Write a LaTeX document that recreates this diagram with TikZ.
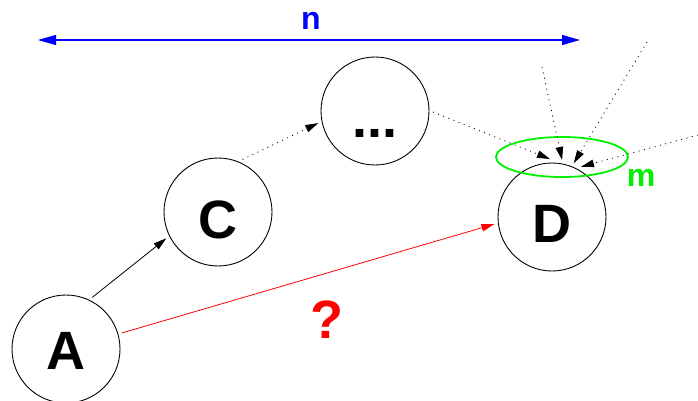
\documentclass[tikz,border=0pt]{standalone}
\usepackage{fontspec}
\setmainfont{Liberation Sans}
\usetikzlibrary{arrows.meta,calc,shapes.geometric}
\definecolor{fgreen}{RGB}{0,240,0}
\definecolor{fblue}{RGB}{0,0,255}
\definecolor{fred}{RGB}{255,0,0}
\tikzset{
  st/.style={circle,draw=black,line width=0.9pt,minimum size=108pt,inner sep=0pt,outer sep=4pt,
    font=\fontsize{54}{54}\selectfont\bfseries,text depth=0pt},
  blk/.style={-{Triangle[length=13pt,width=7.5pt]},line width=0.8pt,black},
  dots/.style={blk,dash pattern=on 1pt off 4.5pt},
  lbl/.style={font=\fontsize{32}{32}\selectfont\bfseries,inner sep=0pt}
}
\begin{document}
\begin{tikzpicture}[x=1pt,y=-1pt]
\useasboundingbox (0,0) rectangle (698,401);
\node[st,text height=40pt] (A) at (66,349) {A};
\node[st,text height=52pt] (C) at (218,212) {C};
\node[st,text height=52pt] (X) at (375,111) {...};
\node[st,text height=50pt] (D) at (552,217) {D};
\node[ellipse,draw=fgreen,line width=1.8pt,minimum width=132pt,minimum height=40pt,inner sep=0pt] (E) at (562,157) {};
\coordinate (nL) at (38,40);
\coordinate (nR) at (580,40);
\draw[fblue,line width=1.4pt,{Triangle[length=18pt,width=10pt]}-{Triangle[length=18pt,width=10pt]}] (nL) -- (nR);
\node[lbl,text=fblue] (n) at (311,21) {n};
\node[lbl,text=fgreen] (m) at (641,178) {m};
\node[font=\fontsize{54}{54}\selectfont\bfseries,text=fred,inner sep=0pt] (q) at (327,320) {?};
\draw[blk] (A.63) -- (C.207);
\draw[-{Triangle[length=13pt,width=7.5pt]},fred,line width=0.8pt] (A.16) -- (D.187);
\draw[dots] (C.65) -- (X.192);
\draw[dots] (X.359) -- (D.92);
\coordinate (s1) at (542,67);
\coordinate (s2) at (647,42);
\coordinate (s3) at (698,135);
\draw[dots] (s1) -- (D.80);
\draw[dots] (s2) -- (D.68);
\draw[dots] (s3) -- (D.60);
\end{tikzpicture}
\end{document}
